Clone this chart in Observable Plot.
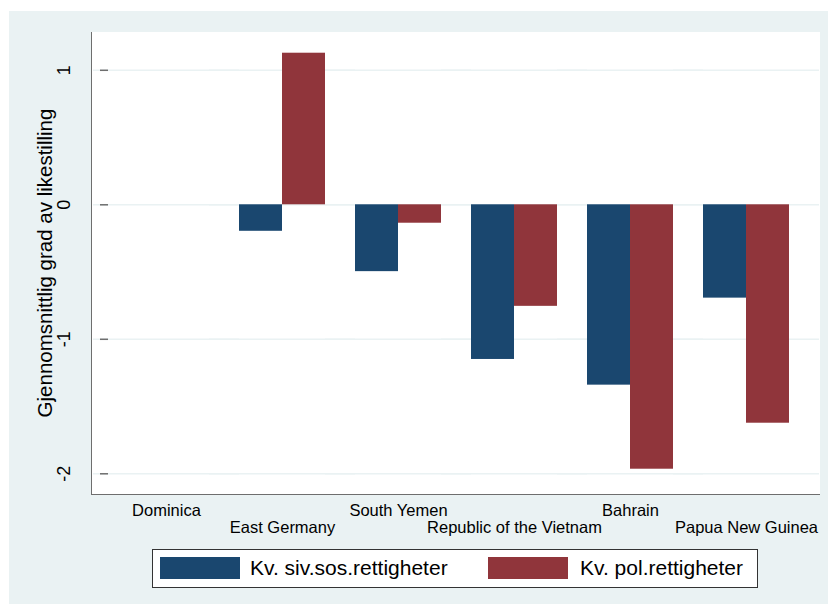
<!DOCTYPE html>
<html>
<head>
<meta charset="utf-8">
<script src="https://cdn.jsdelivr.net/npm/d3@7"></script>
<script src="https://cdn.jsdelivr.net/npm/@observablehq/plot@0.6"></script>
<style>
  body { margin: 0; background: #ffffff; font-family: "Liberation Sans", Arial, Helvetica, sans-serif; }
  #bg { position: absolute; left: 9px; top: 11px; width: 819px; height: 593px; background: #eaf2f3; }
  #panel { position: absolute; left: 82px; top: 21px; width: 729px; height: 463px; background: #ffffff;
           border-left: 1.5px solid #6e6e6e; border-bottom: 1.5px solid #6e6e6e; box-sizing: border-box; }
  #chart { position: absolute; left: 0; top: 0; }
  #ytitle { position: absolute; left: 36px; top: 252px; transform: translate(-50%, -50%) rotate(-90deg);
            font-size: 20.5px; color: #000; white-space: nowrap; line-height: 1; }
  #legend { position: absolute; left: 143px; top: 538px; width: 606px; height: 39px; background: #ffffff;
            border: 1.5px solid #333333; box-sizing: border-box; }
  .sw { position: absolute; top: 7px; width: 80px; height: 22px; }
  .lt { position: absolute; top: 7px; height: 22px; line-height: 22px; font-size: 21px; color: #000; white-space: nowrap; }
</style>
</head>
<body>
<div id="bg">
  <div id="panel"></div>
  <div id="chart"></div>
  <div id="ytitle"></div>
  <div id="legend"></div>
</div>
<script>
const countries = ["Dominica", "East Germany", "South Yemen", "Republic of the Vietnam", "Bahrain", "Papua New Guinea"];
const sivValues = [null, -0.197, -0.497, -1.15, -1.341, -0.694];
const polValues = [null, 1.127, -0.137, -0.755, -1.966, -1.624];
const seriesNames = ["Kv. siv.sos.rettigheter", "Kv. pol.rettigheter"];
const seriesColors = ["#1a476f", "#90353b"];
const yTicks = [1, 0, -1, -2];
const labelRow1 = ["Dominica", "South Yemen", "Bahrain"];
const labelRow2 = ["East Germany", "Republic of the Vietnam", "Papua New Guinea"];
const yTitle = "Gjennomsnittlig grad av likestilling";

const data = countries.flatMap((c, i) => [
  {country: c, series: seriesNames[0], value: sivValues[i]},
  {country: c, series: seriesNames[1], value: polValues[i]}
]);

const chart = Plot.plot({
  width: 819,
  height: 530,
  marginLeft: 82,
  marginRight: 8,
  marginTop: 21,
  marginBottom: 47,
  style: {background: "transparent", fontFamily: "'Liberation Sans', Arial, Helvetica, sans-serif", fontSize: "16.5px", color: "#000"},
  facet: {data, x: "country"},
  fx: {domain: countries, paddingInner: 0, paddingOuter: 0.131, axis: null, label: null},
  x: {domain: seriesNames, paddingInner: 0, paddingOuter: 0.3227, axis: null},
  y: {domain: [-2.154, 1.281], axis: null},
  color: {domain: seriesNames, range: seriesColors},
  marks: [
    Plot.ruleY(yTicks, {stroke: "#eaf2f3", strokeWidth: 1.5, insetLeft: -15, insetRight: -15}),
    Plot.barY(data, {x: "series", y: "value", fill: "series"}),
    Plot.axisY({ticks: yTicks, tickSize: 8, tickPadding: 31, tickRotate: -90, stroke: "#6e6e6e", strokeWidth: 1.5,
                tickFormat: d => String(d).replace("−", "-"), fill: "#000", fontSize: 18, label: null}),
    Plot.axisFx({anchor: "bottom", ticks: labelRow1, tickSize: 0, tickPadding: 10, label: null, fill: "#000"}),
    Plot.axisFx({anchor: "bottom", ticks: labelRow2, tickSize: 0, tickPadding: 27, label: null, fill: "#000"})
  ]
});
document.getElementById("chart").appendChild(chart);
document.getElementById("ytitle").textContent = yTitle;

const legend = document.getElementById("legend");
const swLeft = [7, 335];
const txtLeft = [97, 427];
seriesNames.forEach((name, i) => {
  const sw = document.createElement("div");
  sw.className = "sw";
  sw.style.left = swLeft[i] + "px";
  sw.style.background = seriesColors[i];
  legend.appendChild(sw);
  const t = document.createElement("div");
  t.className = "lt";
  t.style.left = txtLeft[i] + "px";
  t.textContent = name;
  legend.appendChild(t);
});
</script>
</body>
</html>
